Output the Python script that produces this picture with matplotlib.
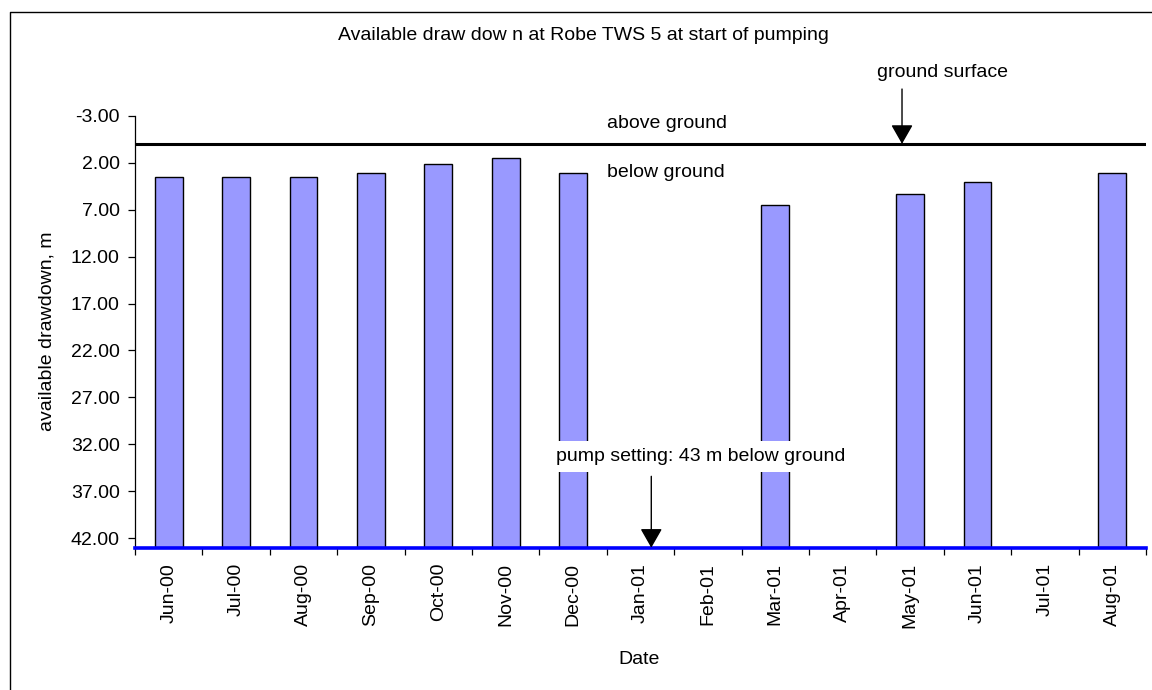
import numpy as np
import matplotlib
matplotlib.use("Agg")
import matplotlib.pyplot as plt
from matplotlib.lines import Line2D
from matplotlib.patches import ArrowStyle

plt.rcParams['font.family'] = ['Liberation Sans', 'DejaVu Sans']

months = ["Jun-00", "Jul-00", "Aug-00", "Sep-00", "Oct-00", "Nov-00", "Dec-00",
          "Jan-01", "Feb-01", "Mar-01", "Apr-01", "May-01", "Jun-01", "Jul-01", "Aug-01"]
# water level at start of pumping, m below ground (nan = no reading)
drawdown = [3.55, 3.55, 3.55, 3.05, 2.1, 1.55, 3.1,
            np.nan, np.nan, 6.55, np.nan, 5.35, 4.1, np.nan, 3.1]
ground_level = 0.0
pump_setting = 43.0
y_ticks = [-3, 2, 7, 12, 17, 22, 27, 32, 37, 42]

W, H = 1152, 690
fig = plt.figure(figsize=(W / 100, H / 100), dpi=100)
ax = fig.add_axes([135 / W, (H - 547.7) / H, 1011 / W, (547.7 - 115.7) / H])

x = np.arange(len(months))
vals = np.array(drawdown)
ok = ~np.isnan(vals)
# bars hang from the pump setting up to the water level
ax.bar(x[ok], vals[ok] - pump_setting, bottom=pump_setting, width=0.41,
       color="#9999ff", edgecolor="black", linewidth=1.0, zorder=2)

ax.set_xlim(-0.5, len(months) - 0.5)
ax.set_ylim(pump_setting, -3)

ax.axhline(ground_level, color="black", lw=2.2, zorder=3)
ax.axhline(pump_setting, color="#0000ff", lw=2.6, zorder=5, clip_on=False)

# ticks between categories, labels in the middle
ax.set_xticks(np.arange(len(months) + 1) - 0.5)
ax.set_xticklabels([])
ax.set_xticks(x, minor=True)
ax.set_xticklabels(months, minor=True, rotation=90, fontsize=14)
ax.tick_params(axis="x", which="major", length=5, width=0.9, direction="out")
ax.tick_params(axis="x", which="minor", length=0, pad=11)

ax.set_yticks(y_ticks)
ax.set_yticklabels([f"{v:.2f}" for v in y_ticks], fontsize=14)
ax.tick_params(axis="y", length=5, width=0.9, direction="out", pad=6)

for s in ["top", "right", "bottom"]:
    ax.spines[s].set_visible(False)
ax.spines["left"].set_linewidth(0.9)

head = ArrowStyle("-|>", head_length=0.35, head_width=0.2)

ax.text(6.5, -2.22, "above ground", fontsize=14, ha="left", va="center")
ax.text(6.5, 3.07, "below ground", fontsize=14, ha="left", va="center")

ax.text(10.51, -7.55, "ground surface", fontsize=14, ha="left", va="center", clip_on=False)
ax.annotate("", xy=(10.88, ground_level), xytext=(10.88, -5.84),
            arrowprops=dict(arrowstyle=head, color="black", lw=1.0, mutation_scale=34,
                            shrinkA=0, shrinkB=0),
            annotation_clip=False, zorder=6)

ax.text(7.9, 33.3, "pump setting: 43 m below ground", fontsize=14, ha="center", va="center",
        bbox=dict(facecolor="white", edgecolor="none", pad=5), zorder=4)
ax.annotate("", xy=(7.16, pump_setting), xytext=(7.16, 35.4),
            arrowprops=dict(arrowstyle=head, color="black", lw=1.0, mutation_scale=34,
                            shrinkA=0, shrinkB=0),
            annotation_clip=False, zorder=6)

fig.text(583 / W, 1 - 35 / H, "Available draw dow n at Robe TWS 5 at start of pumping",
         fontsize=14, ha="center", va="center")
fig.text(46.7 / W, 1 - 331.7 / H, "available drawdown, m", fontsize=14,
         rotation=90, ha="center", va="center")
fig.text(639.5 / W, 1 - 659 / H, "Date", fontsize=14, ha="center", va="center")

# chart area frame (left and top edges)
fig.add_artist(Line2D([10 / W, 10 / W, 1.0], [0.0, 1 - 12 / H, 1 - 12 / H],
                      transform=fig.transFigure, color="black", lw=1.0))

fig.savefig("out.png", dpi=100)
